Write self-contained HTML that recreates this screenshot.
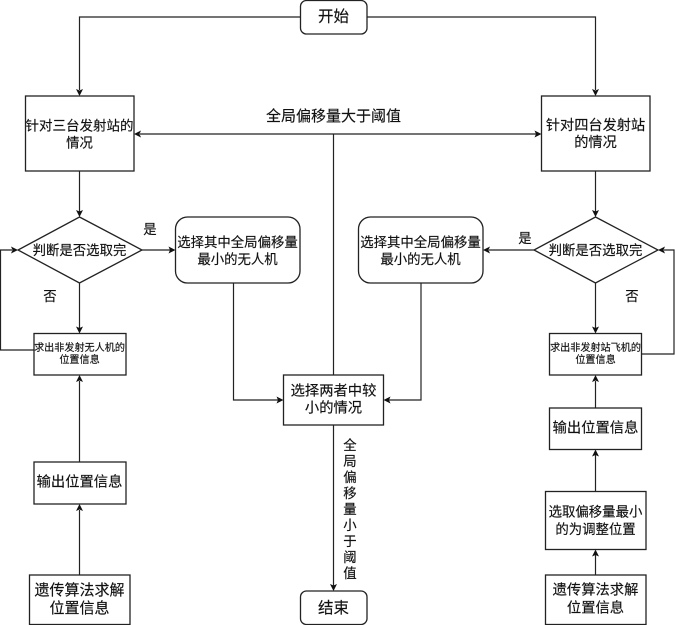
<!DOCTYPE html>
<html>
<head>
<meta charset="utf-8">
<style>
html,body{margin:0;padding:0;background:#fff;width:675px;height:625px;overflow:hidden}
svg{display:block;filter:blur(0.35px)}
text{font-family:"Liberation Sans","Noto Sans CJK SC",sans-serif;fill:#111;stroke:#111;stroke-width:0.15px;text-anchor:middle;dominant-baseline:central;transform:translateY(1px)}
.b{fill:#fff;stroke:#222;stroke-width:1.3}
.l{fill:none;stroke:#222;stroke-width:1.2}
.a{fill:#111;stroke:none}
</style>
</head>
<body>
<svg width="675" height="625" viewBox="0 0 675 625" xmlns="http://www.w3.org/2000/svg">
<defs>
<g id="ad"><path class="a" d="M-3.5,-7 L0,-5.5 L3.5,-7 L0,0 Z"/></g>
</defs>

<!-- connectors -->
<path class="l" d="M300,17 H79.5 V90"/>
<path class="l" d="M367,17 H595.5 V90"/>
<path class="l" d="M79.5,171 V212"/>
<path class="l" d="M595.5,171 V212"/>
<path class="l" d="M142,250 H170"/>
<path class="l" d="M534,250 H489"/>
<path class="l" d="M79.5,283 V328"/>
<path class="l" d="M595.5,283 V328"/>
<path class="l" d="M34,350 H0.5 V250 H12"/>
<path class="l" d="M641.5,354 H674 V250 H664"/>
<path class="l" d="M79.5,462 V381"/>
<path class="l" d="M79.5,575 V510"/>
<path class="l" d="M595.5,408 V381"/>
<path class="l" d="M595.5,491 V455"/>
<path class="l" d="M595.5,575 V555"/>
<path class="l" d="M233.5,283 V400 H278"/>
<path class="l" d="M421,283 V400 H389"/>
<path class="l" d="M333.5,375 V134 M140,134 H536"/>
<path class="l" d="M333.5,425 V586"/>

<!-- arrowheads -->
<use href="#ad" transform="translate(79.5,96)"/>
<use href="#ad" transform="translate(595.5,96)"/>
<use href="#ad" transform="translate(79.5,217)"/>
<use href="#ad" transform="translate(595.5,217)"/>
<use href="#ad" transform="translate(79.5,333.5)"/>
<use href="#ad" transform="translate(595.5,333.5)"/>
<use href="#ad" transform="translate(333.5,591)"/>
<use href="#ad" transform="translate(79.5,375) rotate(180)"/>
<use href="#ad" transform="translate(79.5,504) rotate(180)"/>
<use href="#ad" transform="translate(595.5,375) rotate(180)"/>
<use href="#ad" transform="translate(595.5,449.5) rotate(180)"/>
<use href="#ad" transform="translate(595.5,549.5) rotate(180)"/>
<use href="#ad" transform="translate(175.5,250) rotate(-90)"/>
<use href="#ad" transform="translate(18,250) rotate(-90)"/>
<use href="#ad" transform="translate(283.5,400) rotate(-90)"/>
<use href="#ad" transform="translate(541.5,134) rotate(-90)"/>
<use href="#ad" transform="translate(483,250) rotate(90)"/>
<use href="#ad" transform="translate(658,250) rotate(90)"/>
<use href="#ad" transform="translate(383.5,400) rotate(90)"/>
<use href="#ad" transform="translate(134,134) rotate(90)"/>

<!-- nodes -->
<rect class="b" x="300.5" y="0.5" width="66.5" height="33.5" rx="6"/>
<rect class="b" x="25.5" y="96" width="108.5" height="75"/>
<rect class="b" x="541.5" y="96" width="108.5" height="75"/>
<polygon class="b" points="79.5,217 142,250 79.5,283 18,250"/>
<polygon class="b" points="595.5,217 658,250 595.5,283 534,250"/>
<rect class="b" x="175.5" y="217" width="124.5" height="66" rx="12"/>
<rect class="b" x="358.5" y="217" width="124.5" height="66" rx="12"/>
<rect class="b" x="34" y="333.5" width="92" height="41.5"/>
<rect class="b" x="549.5" y="333.5" width="92" height="41.5"/>
<rect class="b" x="283.5" y="375" width="100" height="50"/>
<rect class="b" x="34" y="462" width="92" height="42"/>
<rect class="b" x="549.5" y="408" width="92" height="41.5"/>
<rect class="b" x="545.5" y="491.5" width="100.5" height="58"/>
<rect class="b" x="29.5" y="575" width="100.5" height="49.5"/>
<rect class="b" x="545.5" y="575" width="100.5" height="49.5"/>
<rect class="b" x="300.5" y="591" width="66.5" height="33.5" rx="6"/>

<!-- text -->
<text x="333.5" y="16" font-size="15.5">开始</text>
<text x="333.5" y="607.5" font-size="15.5">结束</text>
<text x="333.5" y="115.5" font-size="15">全局偏移量大于阈值</text>

<g font-size="13.4">
<text x="79.5" y="125" font-size="13.5">针对三台发射站的</text>
<text x="79.5" y="142">情况</text>
<text x="595.5" y="125" font-size="14.2">针对四台发射站</text>
<text x="595.5" y="142" font-size="14.2">的情况</text>
<text x="79.5" y="249.5">判断是否选取完</text>
<text x="595.5" y="249.5">判断是否选取完</text>
<text x="237.5" y="241.5">选择其中全局偏移量</text>
<text x="237.5" y="258.5">最小的无人机</text>
<text x="420.5" y="241.5">选择其中全局偏移量</text>
<text x="420.5" y="258.5">最小的无人机</text>
<text x="595.5" y="511">选取偏移量最小</text>
<text x="595.5" y="528.5">的为调整位置</text>
<text x="150" y="228.5">是</text>
<text x="50" y="295.5">否</text>
<text x="525" y="237.5">是</text>
<text x="632" y="295.5">否</text>
</g>

<g font-size="10.1">
<text x="79.5" y="347.5">求出非发射无人机的</text>
<text x="79.5" y="359.5">位置信息</text>
<text x="595.5" y="347.5">求出非发射站飞机的</text>
<text x="595.5" y="359.5">位置信息</text>
</g>

<g font-size="14.3">
<text x="333.5" y="390.5">选择两者中较</text>
<text x="333.5" y="407.5">小的情况</text>
<text x="79.5" y="481.5">输出位置信息</text>
<text x="595.5" y="427.5">输出位置信息</text>
</g>

<g font-size="15">
<text x="79.5" y="589.5">遗传算法求解</text>
<text x="79.5" y="607.5">位置信息</text>
</g>
<g font-size="14.3">
<text x="595.5" y="589.5">遗传算法求解</text>
<text x="595.5" y="607.5">位置信息</text>
</g>

<g font-size="13.4">
<text x="350" y="444.5">全</text>
<text x="350" y="460.5">局</text>
<text x="350" y="476.5">偏</text>
<text x="350" y="492.5">移</text>
<text x="350" y="508.5">量</text>
<text x="350" y="524.5">小</text>
<text x="350" y="540.5">于</text>
<text x="350" y="556.5">阈</text>
<text x="350" y="572.5">值</text>
</g>
</svg>
</body>
</html>
